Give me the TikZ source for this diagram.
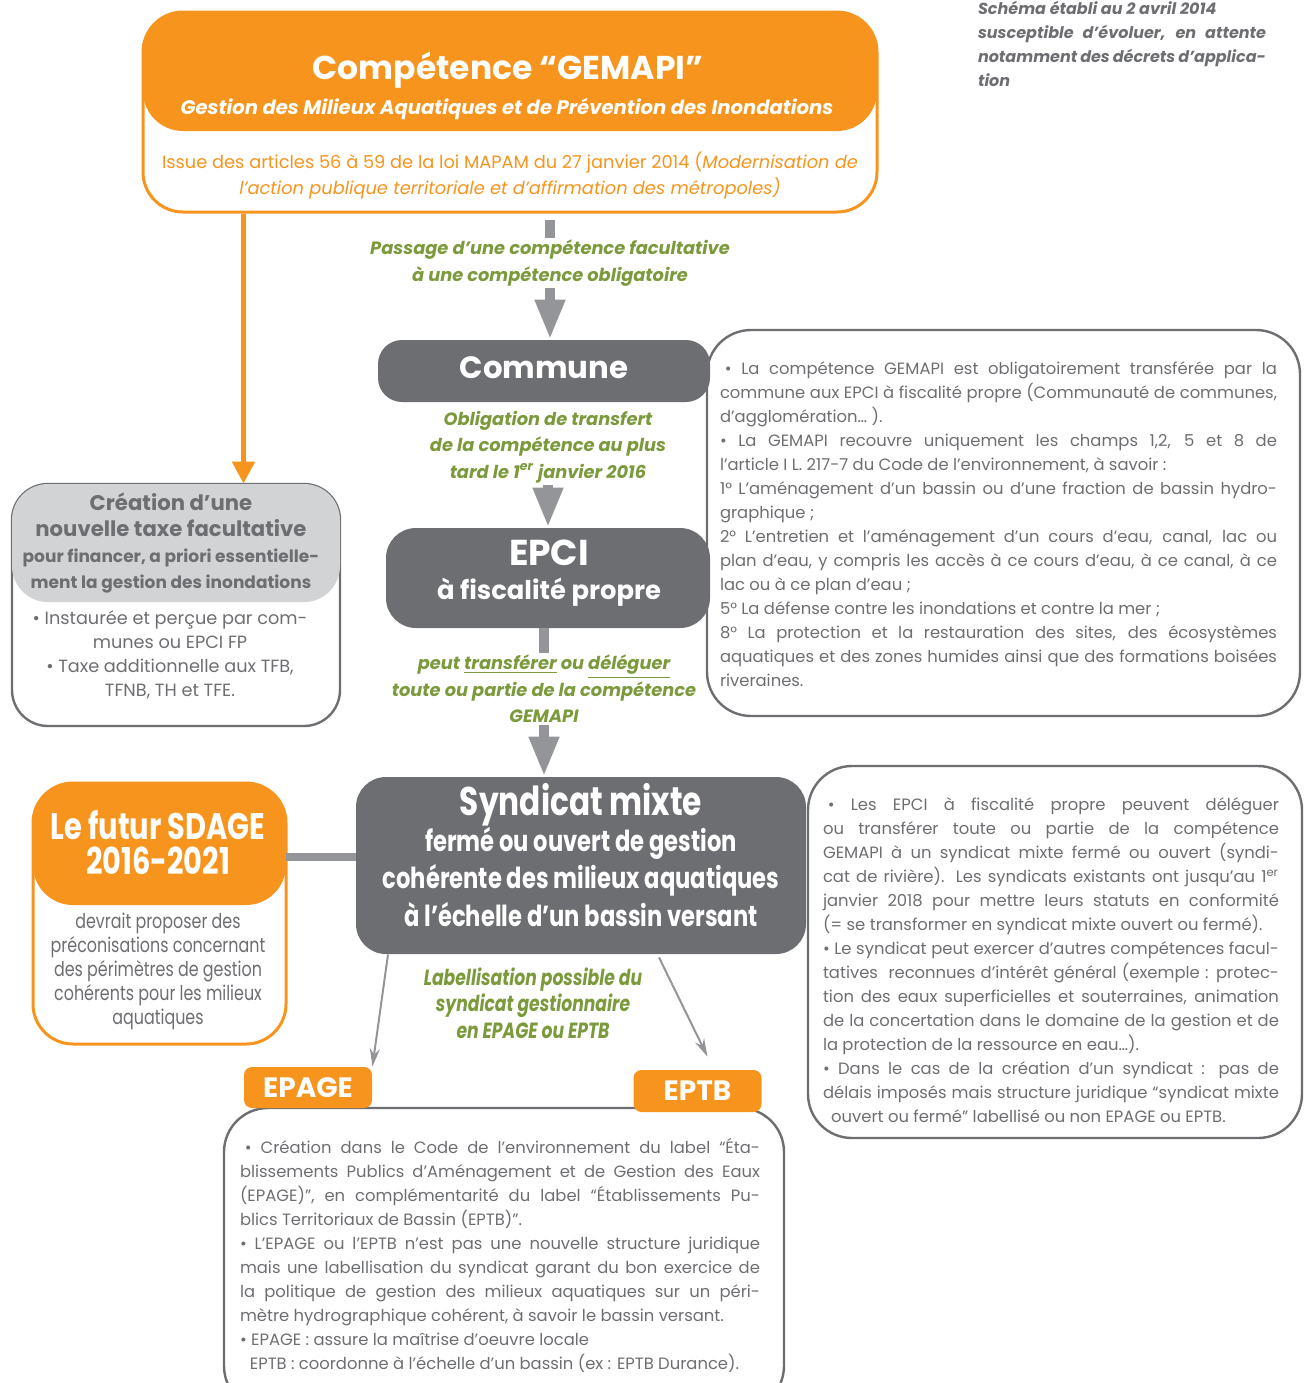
\documentclass[tikz,border=0pt]{standalone}
\usepackage{fontspec}
\setmainfont{Poppins}
\newfontfamily\condfont[FakeStretch=0.78]{Poppins}
\usetikzlibrary{arrows.meta,calc}

\definecolor{gorange}{HTML}{F7941D}
\definecolor{gdark}{HTML}{6D6E71}
\definecolor{glight}{HTML}{D1D3D4}
\definecolor{garrow}{HTML}{939598}
\definecolor{ggreen}{HTML}{7A9A3B}

% une ligne justifiee, cassee a la main
\newcommand{\justline}[1]{\makebox[\linewidth][s]{#1}\\}

\tikzset{
  panel/.style={draw=gdark, line width=1.2pt, rounded corners=20pt, inner sep=0pt},
  darkbox/.style={fill=gdark, text=white, inner sep=0pt, align=center},
  tab/.style={fill=gorange, text=white, rounded corners=4pt, inner sep=0pt,
    minimum width=64pt, minimum height=20.5pt, font=\fontsize{14}{15}\selectfont\bfseries},
  greenlabel/.style={text=ggreen, align=center, inner sep=1pt,
    font=\fontsize{8.9}{13.2}\selectfont\bfseries\itshape},
  body/.style={text=gdark, align=justify, inner sep=0pt, font=\fontsize{8.2}{12}\selectfont},
  bigarrow/.style={draw=garrow, line width=5pt, -{Triangle[width=14pt,length=20pt]}},
  stub/.style={draw=garrow, line width=5pt},
  thinarrow/.style={draw=garrow, line width=1pt, -{Stealth[width=5pt,length=9pt]}},
  oarrow/.style={draw=gorange, line width=2.5pt, -{Triangle[width=11pt,length=11pt]}},
  liaison/.style={draw=garrow, line width=4pt}
}

\begin{document}
\begin{tikzpicture}[x=0.5pt,y=-0.5pt]
\useasboundingbox (0,0) rectangle (1309,1383);

% competence GEMAPI
\node[panel, draw=gorange, line width=1.5pt, minimum width=367pt, minimum height=100pt] (gemapi) at (510,112) {};
\node[fill=gorange, rounded corners=20pt, inner sep=0pt, minimum width=367pt, minimum height=59.5pt] (gemapihead) at (510,71.5) {};
\node[text=white, font=\fontsize{16.5}{20}\selectfont\bfseries] (titre) at (508,70) {Compétence “GEMAPI”};
\node[text=white, font=\fontsize{9.8}{12}\selectfont\bfseries\itshape] (soustitre) at (507,109) {Gestion des Milieux Aquatiques et de Prévention des Inondations};
\node[text=gorange, align=center, font=\fontsize{8.9}{13}\selectfont] (loi) at (510,175)
  {Issue des articles 56 à 59 de la loi MAPAM du 27 janvier 2014 (\textit{Modernisation de}\\
   \textit{l’action publique territoriale et d’affirmation des métropoles)}};

% note en haut a droite
\node[text=gdark, text width=144pt, align=justify, inner sep=0pt, font=\fontsize{8}{12}\selectfont\bfseries\itshape] (note) at (1122,44)
  {Schéma établi au 2 avril 2014\\
   \justline{susceptible d’évoluer, en attente}
   \justline{notamment des décrets d’applica-}
   tion};

% taxe facultative
\node[panel, rounded corners=18pt, minimum width=164pt, minimum height=121pt] (taxe) at (176,605) {};
\node[fill=glight, rounded corners=18pt, inner sep=0pt, minimum width=164pt, minimum height=59pt] (taxehead) at (176,543) {};
\node[text=gdark, align=center, inner sep=0pt, font=\fontsize{10.6}{13}\selectfont\bfseries] (taxetitre) at (171,543)
  {Création d’une\\nouvelle taxe facultative\\
   {\fontsize{8.5}{13}\selectfont pour financer, a priori essentielle-}\\
   {\fontsize{8.5}{13}\selectfont ment la gestion des inondations}};
\node[text=gdark, align=center, inner sep=0pt, font=\fontsize{8.85}{12}\selectfont] (taxetexte) at (170,655)
  {• Instaurée et perçue par com-\\munes ou EPCI FP\\• Taxe additionnelle aux TFB,\\TFNB, TH et TFE.};
\coordinate (fourche) at ($(gemapi.south west)+(102,0)$);
\draw[oarrow] (fourche) -- (fourche |- taxehead.north);

% commune et EPCI
\node[greenlabel] (passage) at (550,263) {Passage d’une compétence facultative\\à une compétence obligatoire};
\node[darkbox, rounded corners=12pt, minimum width=166pt, minimum height=31pt, font=\fontsize{15.4}{18}\selectfont\bfseries] (commune) at (544,371) {\raisebox{3.5pt}{Commune}};
\node[greenlabel] (obligation) at (548,447) {Obligation de transfert\\de la compétence au plus\\tard le 1\textsuperscript{er} janvier 2016};
\node[darkbox, rounded corners=15pt, minimum width=162pt, minimum height=50pt] (epci) at (548,578) {};
\node[text=white, align=center, inner sep=0pt, font=\bfseries] (epcitexte) at (549,573)
  {{\fontsize{18}{20}\selectfont EPCI}\\[5pt]{\fontsize{12.9}{14}\selectfont à fiscalité propre}};
\node[greenlabel] (peut) at (544,689) {peut \underline{transférer} ou \underline{déléguer}\\toute ou partie de la compétence\\GEMAPI};

\draw[stub, shorten <=3pt] (gemapi.south -| passage.north) -- (passage.north);
\draw[bigarrow] (passage.south) -- (commune.north -| passage.south);
\draw[bigarrow] (obligation.south) -- (epci.north -| obligation.south);
\draw[stub] (epci.south -| peut.north) -- (peut.north);

% texte de droite
\node[panel, rounded corners=22pt, minimum width=296.5pt, minimum height=193pt] (droitun) at (1003.5,523) {};
\node[body, text width=278.5pt] (droitunt) at (998.5,524)
  {\justline{\hspace*{0.3em}• La compétence GEMAPI est obligatoirement transférée par la}
   \justline{commune aux EPCI à fiscalité propre (Communauté de communes,}
   d’agglomération… ).\\
   \justline{• La GEMAPI recouvre uniquement les champs 1,2, 5 et 8 de}
   l’article I L. 217-7 du Code de l’environnement, à savoir :\\
   \justline{1° L’aménagement d’un bassin ou d’une fraction de bassin hydro-}
   graphique ;\\
   \justline{2° L’entretien et l’aménagement d’un cours d’eau, canal, lac ou}
   \justline{plan d’eau, y compris les accès à ce cours d’eau, à ce canal, à ce}
   lac ou à ce plan d’eau ;\\
   5° La défense contre les inondations et contre la mer ;\\
   \justline{8° La protection et la restauration des sites, des écosystèmes}
   \justline{aquatiques et des zones humides ainsi que des formations boisées}
   riveraines.};

% syndicat mixte
\node[darkbox, rounded corners=15pt, minimum width=225pt, minimum height=88.5pt] (syndicat) at (581,865.5) {};
\node[text=white, align=center, inner sep=0pt, font=\condfont\fontsize{14.5}{18.75}\selectfont\bfseries] (syndicattexte) at (581,855)
  {{\fontsize{20}{20}\selectfont Syndicat mixte}\\[-1pt]fermé ou ouvert de gestion\\cohérente des milieux aquatiques\\à l’échelle d’un bassin versant};
\draw[bigarrow] (peut.south) -- (syndicat.north -| peut.south);

% SDAGE
\node[panel, draw=gorange, line width=1.5pt, minimum width=126.5pt, minimum height=130.5pt] (sdage) at (159.5,913.5) {};
\node[fill=gorange, rounded corners=20pt, inner sep=0pt, minimum width=126.5pt, minimum height=61pt] (sdagehead) at (159.5,844) {};
\node[text=white, align=center, inner sep=0pt, font=\condfont\fontsize{18.5}{17.5}\selectfont\bfseries] (sdagetitre) at (158,843) {Le futur SDAGE\\2016-2021};
\node[text=gdark, align=center, inner sep=0pt, font=\condfont\fontsize{10.2}{12}\selectfont] (sdagetexte) at (158,971)
  {devrait proposer des\\préconisations concernant\\des périmètres de gestion\\cohérents pour les milieux\\aquatiques};
\draw[liaison] ([yshift=-6.5pt]sdagehead.east) -- ([yshift=-6.5pt]sdagehead.east -| syndicat.west);

% labellisation
\node[greenlabel, font=\condfont\fontsize{11}{13.3}\selectfont\bfseries\itshape] (label) at (533,1003) {Labellisation possible du\\syndicat gestionnaire\\en EPAGE ou EPTB};

% texte de droite, en bas
\node[panel, rounded corners=22pt, minimum width=247pt, minimum height=186pt] (droitdeux) at (1055,952) {};
\node[body, text width=228pt] (droitdeuxt) at (1051,960)
  {\justline{\hspace*{0.3em}• Les EPCI à fiscalité propre peuvent déléguer}
   \justline{ou transférer toute ou partie de la compétence}
   \justline{GEMAPI à un syndicat mixte fermé ou ouvert (syndi-}
   \justline{cat de rivière). Les syndicats existants ont jusqu’au 1\textsuperscript{er}}
   \justline{janvier 2018 pour mettre leurs statuts en conformité}
   (= se transformer en syndicat mixte ouvert ou fermé).\\
   \justline{• Le syndicat peut exercer d’autres compétences facul-}
   \justline{tatives \ reconnues d’intérêt général (exemple : protec-}
   \justline{tion des eaux superficielles et souterraines, animation}
   \justline{de la concertation dans le domaine de la gestion et de}
   la protection de la ressource en eau…).\\
   \justline{• Dans le cas de la création d’un syndicat : pas de}
   \justline{délais imposés mais structure juridique “syndicat mixte}
   \hspace*{0.5em}ouvert ou fermé” labellisé ou non EPAGE ou EPTB.};

% EPAGE et EPTB
\node[panel, rounded corners=22pt, minimum width=280pt, minimum height=151pt] (bas) at (504,1259) {};
\node[tab] (epage) at (308,1087.5) {EPAGE};
\node[tab, minimum height=21pt] (eptb) at (697.5,1091) {EPTB};
\draw[thinarrow] ($(syndicat.south)+(-193,0)$) -- (epage.north east);
\draw[thinarrow] ($(syndicat.south)+(78,3)$) -- ([shift={(10,-13)}]eptb.north);
\node[body, text width=260pt] (bastexte) at (500,1255)
  {\justline{\hspace*{0.3em}• Création dans le Code de l’environnement du label “Éta-}
   \justline{blissements Publics d’Aménagement et de Gestion des Eaux}
   \justline{(EPAGE)”, en complémentarité du label “Établissements Pu-}
   blics Territoriaux de Bassin (EPTB)”.\\
   \justline{• L’EPAGE ou l’EPTB n’est pas une nouvelle structure juridique}
   \justline{mais une labellisation du syndicat garant du bon exercice de}
   \justline{la politique de gestion des milieux aquatiques sur un péri-}
   mètre hydrographique cohérent, à savoir le bassin versant.\\
   • EPAGE : assure la maîtrise d’oeuvre locale\\
   \hspace*{0.6em}EPTB : coordonne à l’échelle d’un bassin (ex : EPTB Durance).};
\end{tikzpicture}
\end{document}
